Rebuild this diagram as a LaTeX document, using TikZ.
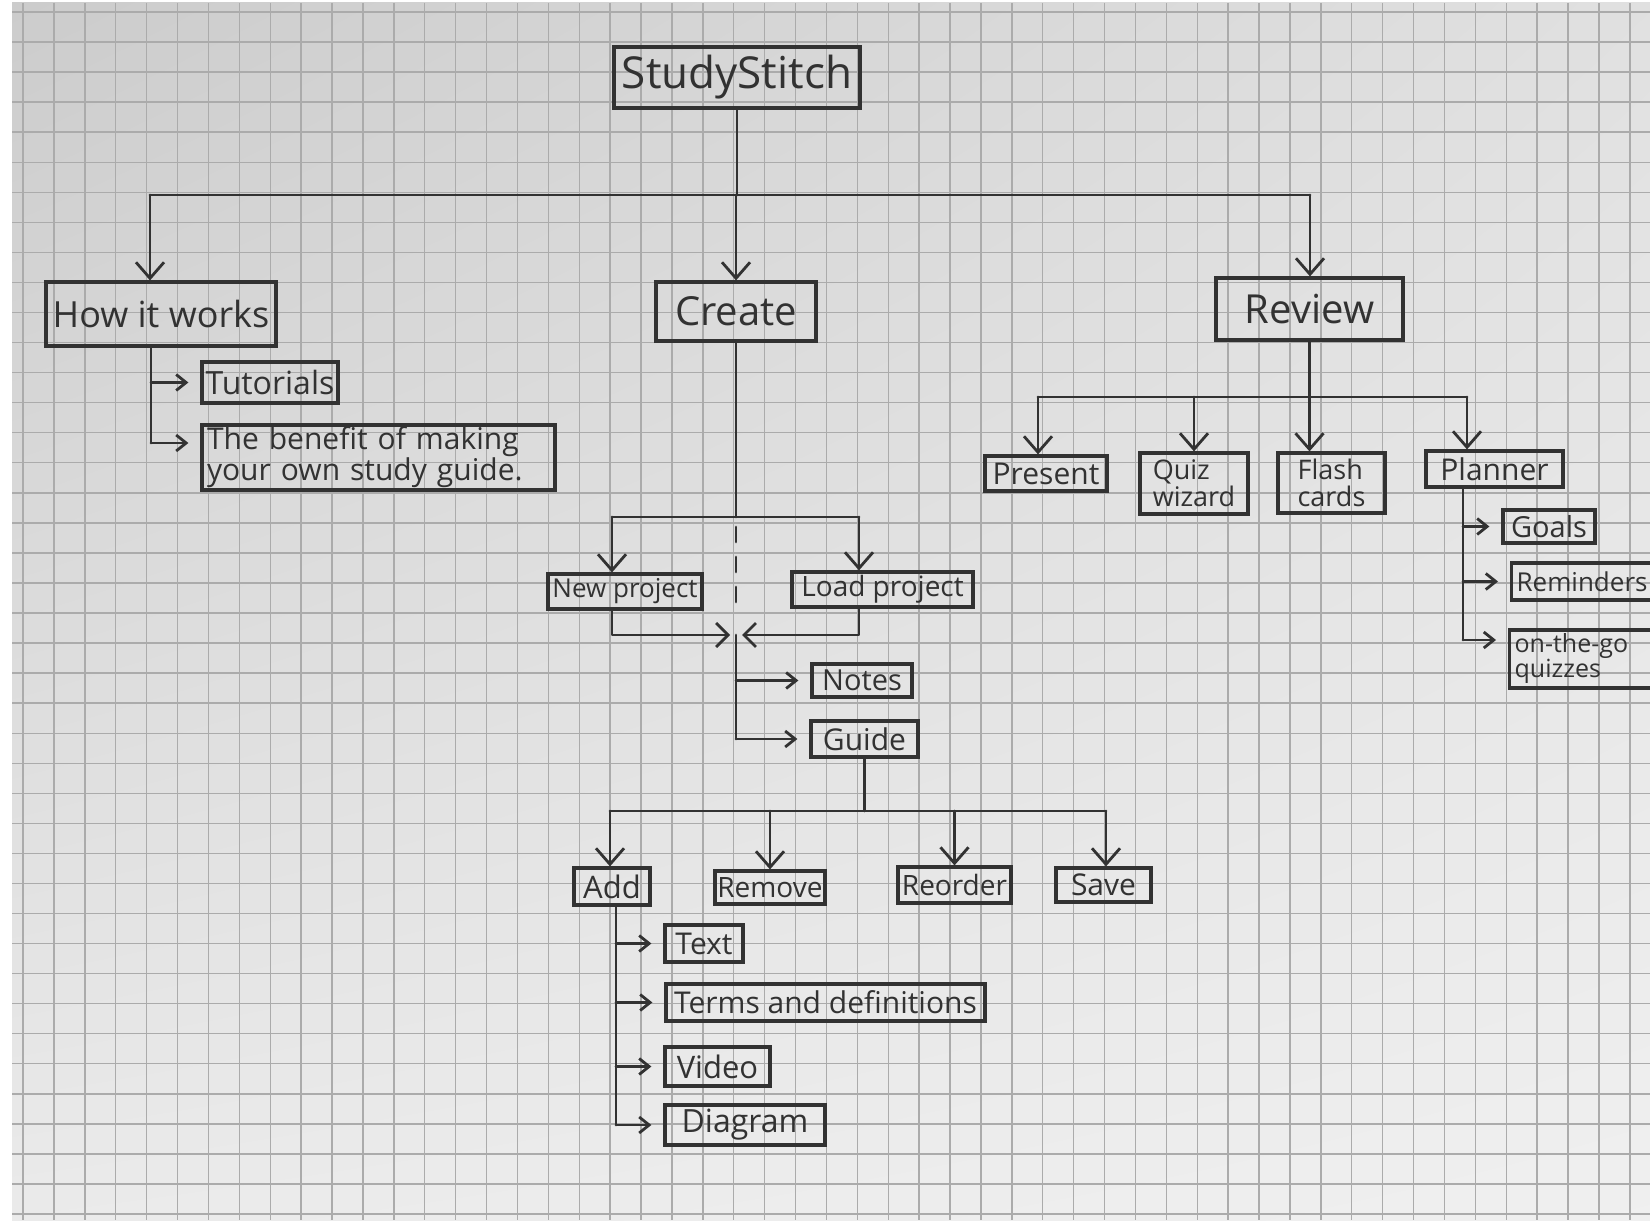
\documentclass[tikz,border=0pt]{standalone}
\usepackage{fontspec}
\setmainfont{Open Sans}
\usetikzlibrary{arrows.meta,calc,shadings}
\newcommand\setfs[1]{\fontsize{#1}{#1}\selectfont}
\definecolor{ink}{RGB}{50,50,50}
\tikzset{
  box/.style={draw=ink, line width=3.2pt, inner sep=0pt, text=ink, align=center},
  ln/.style={draw=ink, line width=2.8pt, line cap=round, line join=round},
  dn/.style={ln, -{Straight Barb[length=16pt,width=28pt]}},
  jn/.style={ln, -{Straight Barb[length=12pt,width=24pt]}, shorten >=6pt},
  rt/.style={ln, -{Straight Barb[length=10pt,width=16pt]}, shorten >=12pt},
  gridln/.style={draw=black!33, line width=1.4pt},
  big/.style={font=\setfs{40}},
  mid/.style={font=\setfs{30}},
  two/.style={font=\setfs{27}, align=left},
}
\begin{document}
\begin{tikzpicture}[x=1pt,y=-1pt]
\useasboundingbox (0,0) rectangle (1650,1228);
\clip (0,0) rectangle (1650,1228);

% sheet of squared paper
\fill[white] (0,0) rectangle (1650,1228);
\shade[upper left=black!20, upper right=black!12, lower left=black!8, lower right=black!6]
  (12,3) rectangle (1650,1220);
\foreach \i in {0,...,52}
  \draw[gridln] ({23+30.9*\i},3) -- ({23+30.9*\i},1220);
\foreach \j in {0,...,40}
  \draw[gridln] (12,{12+30.05*\j}) -- (1650,{12+30.05*\j});

% ---------- boxes ----------
\node[box, minimum width=246pt, minimum height=61pt, font=\setfs{44}] (root) at (737,77.5) {StudyStitch};

\node[box, big, minimum width=230pt, minimum height=64pt, font=\setfs{36}] (how) at (161,314) {How it works};
\node[box, big, minimum width=160pt, minimum height=59pt] (create) at (736,311.5) {Create};
\node[box, big, minimum width=187pt, minimum height=62pt] (review) at (1309.5,309) {Review};

\node[box, minimum width=136pt, minimum height=41pt, font=\setfs{32}] (tut) at (270,382.5) {Tutorials};
\node[box, text width=343pt, inner xsep=5pt, minimum height=65pt, font=\fontsize{30}{28}\selectfont, align=left]
  (ben) at (378.5,457.5) {The benefit of making\\your own study guide.};

\node[box, mid, minimum width=122pt, minimum height=35pt] (present) at (1046,473.5) {Present};
\node[box, two, minimum width=108pt, minimum height=61pt] (quiz) at (1194,483.5) {Quiz\\wizard};
\node[box, two, minimum width=107pt, minimum height=60pt] (flash) at (1331.5,483) {Flash\\cards};
\node[box, mid, minimum width=137pt, minimum height=36pt] (planner) at (1494.5,469) {Planner};
\node[box, font=\setfs{29}, minimum width=92pt, minimum height=33pt] (goals) at (1549,526.5) {Goals};
\node[box, font=\setfs{26}, anchor=west, text width=188pt, inner xsep=5pt, align=left,
      minimum height=37pt] (remind) at (1510,581.5) {Reminders};
\node[box, font=\setfs{25}, anchor=west, text width=188pt, inner xsep=5pt, align=left,
      minimum height=58pt] (otg) at (1508,659) {on-the-go\\quizzes};

\node[box, font=\setfs{26}, minimum width=154pt, minimum height=35pt] (newp) at (625,591.5) {New project};
\node[box, font=\setfs{28}, minimum width=181pt, minimum height=35pt] (loadp) at (882.5,589.5) {Load project};
\node[box, font=\setfs{29}, minimum width=100pt, minimum height=33pt] (notes) at (862,680.5) {Notes};
\node[box, mid, minimum width=107pt, minimum height=36pt] (guide) at (864.5,739) {Guide};

\node[box, font=\setfs{31}, minimum width=76pt, minimum height=37pt] (add) at (612,886.5) {Add};
\node[box, font=\setfs{28}, minimum width=110pt, minimum height=33pt] (remove) at (770,887.5) {Remove};
\node[box, font=\setfs{28}, minimum width=113pt, minimum height=36pt] (reorder) at (954.5,885) {Reorder};
\node[box, mid, minimum width=95pt, minimum height=34pt] (save) at (1103.5,885) {Save};

\node[box, mid, minimum width=78pt, minimum height=37pt] (text) at (704,943.5) {Text};
\node[box, mid, minimum width=319pt, minimum height=37pt] (terms) at (825.5,1002.5) {Terms and definitions};
\node[box, font=\setfs{31}, minimum width=105pt, minimum height=39pt] (video) at (717.5,1066.5) {Video};
\node[box, font=\setfs{32}, minimum width=160pt, minimum height=40pt] (diagram) at (745,1125) {Diagram};

% ---------- top level ----------
\coordinate (busL) at (150,195);
\coordinate (busR) at (1310,195);
\draw[ln] (root.south) -- (root.south |- busL);
\draw[ln] (busL) -- (busR);
\draw[dn] (busL) -- (how.north -| busL);
\draw[dn] (create.north |- busL) -- (create.north);
\draw[dn] (busR) -- (review.north -| busR);

% ---------- how it works ----------
\coordinate (hs) at (151,443);
\draw[ln] (how.south -| hs) -- (hs);
\draw[rt] (tut.west -| hs) -- (tut.west);
\draw[rt] (hs) -- (ben.west |- hs);

% ---------- create ----------
\coordinate (cL) at (612,517);
\coordinate (cR) at (859,517);
\draw[ln] (create.south) -- (create.south |- cL);
\draw[ln] (cL) -- (cR);
\draw[dn] (cL) -- (newp.north -| cL);
\draw[dn] (cR) -- (loadp.north -| cR);
\draw[ln, dash pattern=on 15pt off 15pt] (create.south |- 0,527) -- (create.south |- 0,608);
\coordinate (cj) at (736,635);
\draw[jn] (newp.south -| cL) |- (cj);
\draw[jn] (loadp.south -| cR) |- (cj);
\draw[ln] (cj) -- (guide.west -| cj);
\draw[rt] (notes.west -| cj) -- (notes.west);
\draw[rt] (guide.west -| cj) -- (guide.west);

% ---------- guide ----------
\coordinate (gL) at (610,811);
\coordinate (gR) at (1106,811);
\draw[ln] (guide.south) -- (guide.south |- gL);
\draw[ln] (gL) -- (gR);
\draw[dn] (gL) -- (add.north -| gL);
\draw[dn] (remove.north |- gL) -- (remove.north);
\draw[dn] (reorder.north |- gL) -- (reorder.north);
\draw[dn] (gR) -- (save.north -| gR);

% ---------- add ----------
\coordinate (as) at (616,905);
\draw[ln] (add.south -| as) -- (diagram.west -| as);
\draw[rt] (text.west -| as) -- (text.west);
\draw[rt] (terms.west -| as) -- (terms.west);
\draw[rt] (video.west -| as) -- (video.west);
\draw[rt] (diagram.west -| as) -- (diagram.west);

% ---------- review ----------
\coordinate (rL) at (1038,397);
\coordinate (rR) at (1467,397);
\draw[ln] (review.south) -- (review.south |- rL);
\draw[ln] (rL) -- (rR);
\draw[dn] (rL) -- (present.north -| rL);
\draw[dn] (quiz.north |- rL) -- (quiz.north);
\draw[dn] (review.south |- rL) -- (flash.north -| review.south);
\draw[dn] (rR) -- (planner.north -| rR);

% ---------- planner ----------
\coordinate (ps) at (1463,640);
\draw[ln] (planner.south -| ps) -- (ps);
\draw[rt] (goals.west -| ps) -- (goals.west);
\draw[rt] (remind.west -| ps) -- (remind.west);
\draw[rt] (ps) -- (otg.west |- ps);
\end{tikzpicture}
\end{document}
